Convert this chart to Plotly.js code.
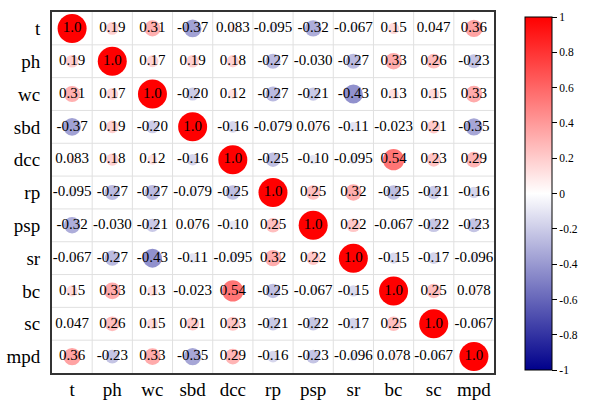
<!DOCTYPE html>
<html>
<head>
<meta charset="utf-8">
<script src="https://cdn.plot.ly/plotly-3.0.1.min.js"></script>
<style>html,body{margin:0;padding:0;background:#fff;}#chart{width:591px;height:402px;}</style>
</head>
<body>
<div id="chart"></div>
<script>
// Variable names (rows top to bottom, columns left to right)
const categories = ["t", "ph", "wc", "sbd", "dcc", "rp", "psp", "sr", "bc", "sc", "mpd"];

// Correlation rows
const row_t   = [1, 0.19, 0.31, -0.37, 0.083, -0.095, -0.32, -0.067, 0.15, 0.047, 0.36];
const row_ph  = [0.19, 1, 0.17, 0.19, 0.18, -0.27, -0.030, -0.27, 0.33, 0.26, -0.23];
const row_wc  = [0.31, 0.17, 1, -0.20, 0.12, -0.27, -0.21, -0.43, 0.13, 0.15, 0.33];
const row_sbd = [-0.37, 0.19, -0.20, 1, -0.16, -0.079, 0.076, -0.11, -0.023, 0.21, -0.35];
const row_dcc = [0.083, 0.18, 0.12, -0.16, 1, -0.25, -0.10, -0.095, 0.54, 0.23, 0.29];
const row_rp  = [-0.095, -0.27, -0.27, -0.079, -0.25, 1, 0.25, 0.32, -0.25, -0.21, -0.16];
const row_psp = [-0.32, -0.030, -0.21, 0.076, -0.10, 0.25, 1, 0.22, -0.067, -0.22, -0.23];
const row_sr  = [-0.067, -0.27, -0.43, -0.11, -0.095, 0.32, 0.22, 1, -0.15, -0.17, -0.096];
const row_bc  = [0.15, 0.33, 0.13, -0.023, 0.54, -0.25, -0.067, -0.15, 1, 0.25, 0.078];
const row_sc  = [0.047, 0.26, 0.15, 0.21, 0.23, -0.21, -0.22, -0.17, 0.25, 1, -0.067];
const row_mpd = [0.36, -0.23, 0.33, -0.35, 0.29, -0.16, -0.23, -0.096, 0.078, -0.067, 1];

const colorbarTickVals = [-1, -0.8, -0.6, -0.4, -0.2, 0, 0.2, 0.4, 0.6, 0.8, 1];
const colorbarTickText = ["-1", "-0.8", "-0.6", "-0.4", "-0.2", "0", "0.2", "0.4", "0.6", "0.8", "1"];

const matrix = [row_t, row_ph, row_wc, row_sbd, row_dcc, row_rp, row_psp, row_sr, row_bc, row_sc, row_mpd];

const xs = [], ys = [], vals = [], labels = [];
matrix.forEach((row, i) => {
  row.forEach((v, j) => {
    xs.push(j); ys.push(i); vals.push(v);
    labels.push(v.toPrecision(2));
  });
});

const colorscale = [[0, "#00008B"], [0.5, "#FFFFFF"], [1, "#FF0000"]];
const serif = "Liberation Serif, Times New Roman, serif";

const circles = {
  type: "scatter", mode: "markers", x: xs, y: ys,
  marker: {
    size: vals.map(v => 29 * Math.sqrt(Math.abs(v))),
    color: vals, colorscale: colorscale, cmin: -1, cmax: 1,
    line: {width: 0}, opacity: 1,
    showscale: true,
    colorbar: {
      x: 1.071, xanchor: "left", xref: "paper",
      y: 0.497, yanchor: "middle", len: 0.978, lenmode: "fraction",
      thickness: 27, thicknessmode: "pixels",
      outlinewidth: 1, outlinecolor: "#000",
      ticks: "outside", ticklen: 5, tickcolor: "#000", tickwidth: 1,
      tickvals: colorbarTickVals, ticktext: colorbarTickText,
      tickfont: {family: serif, size: 11.5, color: "#000"},
      xpad: 0, ypad: 0
    }
  },
  hoverinfo: "skip", showlegend: false
};

const texts = {
  type: "scatter", mode: "text", x: xs, y: ys, text: labels,
  textfont: {family: serif, size: 15, color: "#000"},
  textposition: "middle center", hoverinfo: "skip", showlegend: false
};

const n = categories.length;
const shapes = [];
for (let k = 0; k < n - 1; k++) {
  shapes.push({type: "line", xref: "x", yref: "paper", x0: k + 0.5, x1: k + 0.5, y0: 0, y1: 1,
    line: {color: "#e0e0e0", width: 1}, layer: "below"});
  shapes.push({type: "line", xref: "paper", yref: "y", x0: 0, x1: 1, y0: k + 0.5, y1: k + 0.5,
    line: {color: "#e0e0e0", width: 1}, layer: "below"});
}

const idx = categories.map((c, i) => i);

const layout = {
  width: 591, height: 402,
  margin: {l: 52, r: 89, t: 12, b: 29, pad: 0},
  paper_bgcolor: "#fff", plot_bgcolor: "#fff",
  xaxis: {
    range: [-0.5, n - 0.5], tickmode: "array", tickvals: idx, ticktext: categories,
    showgrid: false, zeroline: false, showline: true, mirror: true,
    linecolor: "#333", linewidth: 2, ticks: "", ticklen: 0, ticklabelstandoff: -2,
    tickfont: {family: serif, size: 19, color: "#000"}, fixedrange: true
  },
  yaxis: {
    range: [n - 0.5, -0.5], tickmode: "array", tickvals: idx, ticktext: categories,
    showgrid: false, zeroline: false, showline: true, mirror: true,
    linecolor: "#333", linewidth: 2, ticks: "", ticklen: 0, ticklabelstandoff: 6,
    tickfont: {family: serif, size: 19, color: "#000"}, fixedrange: true
  },
  shapes: shapes,
  showlegend: false
};

Plotly.newPlot("chart", [circles, texts], layout, {displayModeBar: false, staticPlot: true});
</script>
</body>
</html>
